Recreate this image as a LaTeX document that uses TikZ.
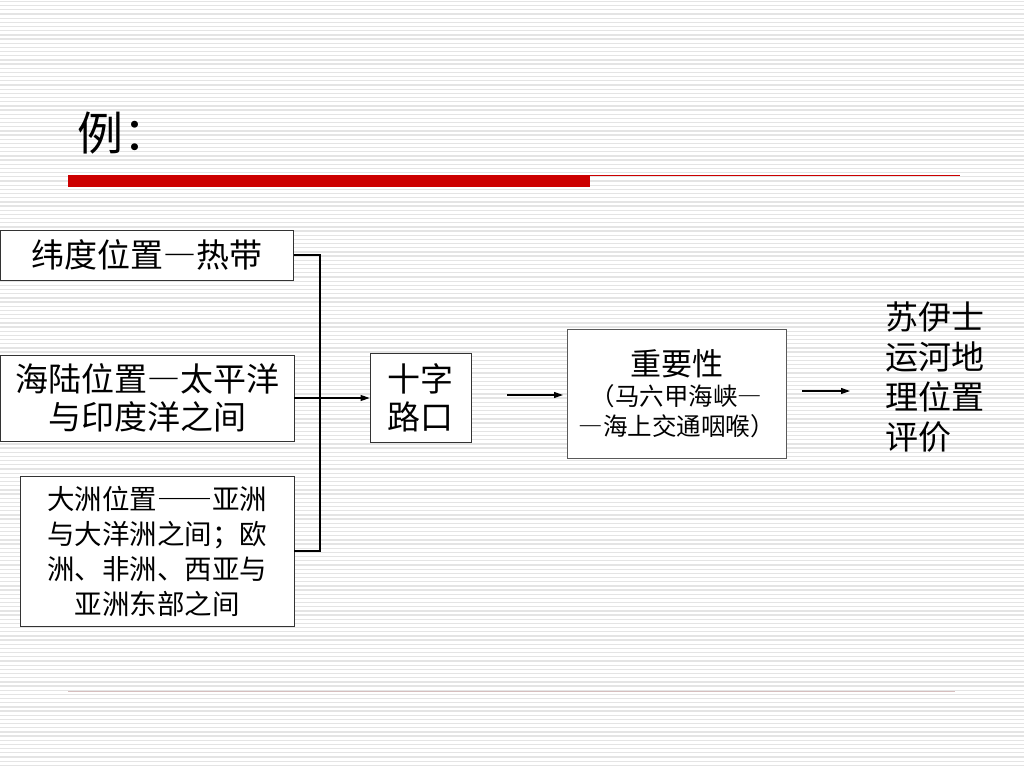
\documentclass[tikz,border=0pt]{standalone}
\usepackage{fontspec}
\newfontfamily\cjk{Noto Sans CJK SC}
\newcommand\fdash{{\addfontfeatures{CharacterWidth=Full}—}}
\usetikzlibrary{arrows.meta}
\definecolor{barred}{RGB}{204,0,0}
\definecolor{stripegray}{RGB}{228,228,228}
\definecolor{footline}{RGB}{214,190,190}
\tikzset{
	box/.style={draw=black!80, fill=white, line width=0.9, inner sep=0pt, align=center},
	arr/.style={line width=1.1, -{Triangle[length=9pt,width=6pt]}},
}
\begin{document}
\begin{tikzpicture}[x=1pt,y=-1pt]
			\useasboundingbox (0,0) rectangle (1024,768);
			\foreach \i in {0,...,183} \draw[stripegray, line width=1.3] (0,\i*4.174+1.5) -- (1024,\i*4.174+1.5);
			\node[anchor=west, font={\cjk\fontsize{46}{50}\selectfont}] (title) at (74,133) {例：};
			\fill[barred] (68,175) rectangle (590,187);
			\draw[barred, line width=1] (590,175.5) -- (960,175.5);
			\draw[footline, line width=1] (68,691) -- (955,691);
			\node[box, minimum width=293, minimum height=50, font={\cjk\fontsize{33}{38}\selectfont}] (lat) at (147,255) {纬度位置\fdash 热带};
			\node[box, minimum width=294, minimum height=86, font={\cjk\fontsize{33}{38}\selectfont}] (sea) at (147,398) {海陆位置\fdash 太平洋\\与印度洋之间};
			\node[box, minimum width=274, minimum height=150, font={\cjk\fontsize{27.5}{35}\selectfont}] (cont) at (157,551) {大洲位置\fdash\fdash 亚洲\\与大洋洲之间；欧\\洲、非洲、西亚与\\亚洲东部之间};
			\node[box, minimum width=101, minimum height=89, font={\cjk\fontsize{33}{38}\selectfont}] (cross) at (420.5,398) {十字\\路口};
			\node[box, draw=black!65, minimum width=219, minimum height=129, font={\cjk\fontsize{24.5}{30}\selectfont}] (imp) at (676.5,393.5) {{\fontsize{31}{36}\selectfont 重要性}\\（马六甲海峡\fdash\\\fdash 海上交通咽喉）};
			\node[anchor=west, align=left, inner sep=0pt, font={\cjk\fontsize{33}{40}\selectfont}] (eval) at (885,377) {苏伊士\\运河地\\理位置\\评价};
			\coordinate (J) at (320,398);
			\coordinate (S2) at (507,395);
			\coordinate (E2) at (563,395);
			\coordinate (S3) at (802,391);
			\coordinate (E3) at (850,391);
			\draw[line width=1.1] (lat.east) -| (J) |- (cont.east);
			\draw[arr] (sea.east) -- (cross.west);
			\draw[arr] (S2) -- (E2);
			\draw[arr] (S3) -- (E3);
		\end{tikzpicture}
\end{document}
